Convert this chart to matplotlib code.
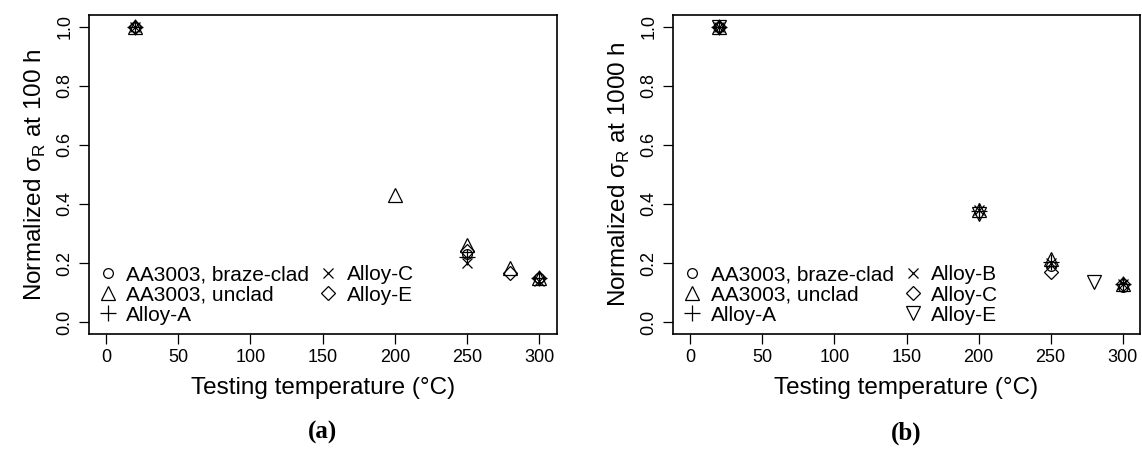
import matplotlib.pyplot as plt

plt.rcParams['font.family'] = ['Liberation Sans', 'DejaVu Sans']

# panel (a): normalized rupture stress at 100 h
temps_a = {
    'AA3003, braze-clad': ([20, 250, 300], [1.0, 0.23, 0.15]),
    'AA3003, unclad': ([20, 200, 250, 280, 300], [1.0, 0.43, 0.26, 0.185, 0.15]),
    'Alloy-A': ([20, 250, 300], [1.0, 0.22, 0.15]),
    'Alloy-C': ([20, 250, 300], [1.0, 0.20, 0.14]),
    'Alloy-E': ([20, 250, 280, 300], [1.0, 0.24, 0.165, 0.15]),
}
# panel (b): normalized rupture stress at 1000 h
temps_b = {
    'AA3003, braze-clad': ([20, 250, 300], [1.0, 0.19, 0.12]),
    'AA3003, unclad': ([20, 200, 250, 300], [1.0, 0.38, 0.215, 0.13]),
    'Alloy-A': ([20, 200, 250, 300], [1.0, 0.375, 0.205, 0.13]),
    'Alloy-B': ([20, 200, 250, 300], [1.0, 0.38, 0.20, 0.13]),
    'Alloy-C': ([20, 250, 300], [1.0, 0.17, 0.13]),
    'Alloy-E': ([20, 200, 280], [1.0, 0.365, 0.135]),
}
markers_a = {'AA3003, braze-clad': ('o', 7), 'AA3003, unclad': ('^', 10),
             'Alloy-A': ('+', 11), 'Alloy-C': ('x', 7), 'Alloy-E': ('D', 7)}
markers_b = {'AA3003, braze-clad': ('o', 7), 'AA3003, unclad': ('^', 10),
             'Alloy-A': ('+', 11), 'Alloy-B': ('x', 7), 'Alloy-C': ('D', 7),
             'Alloy-E': ('v', 10)}

fig = plt.figure(figsize=(11.42, 4.54), dpi=100)
ax1 = fig.add_axes([0.0775, 0.2643, 0.410, 0.703])
ax2 = fig.add_axes([0.5893, 0.2643, 0.409, 0.703])

for ax, data, mk, hours, tag in [(ax1, temps_a, markers_a, 100, '(a)'),
                                 (ax2, temps_b, markers_b, 1000, '(b)')]:
    for name, (x, y) in data.items():
        m, s = mk[name]
        ax.plot(x, y, ls='none', marker=m, ms=s, mfc='none', mec='black',
                mew=0.9, label=name)
    ax.set_xlim(-12, 312)
    ax.set_ylim(-0.04, 1.04)
    ax.set_xticks([0, 50, 100, 150, 200, 250, 300])
    ax.set_yticks([0.0, 0.2, 0.4, 0.6, 0.8, 1.0])
    ax.set_yticklabels(['0.0', '0.2', '0.4', '0.6', '0.8', '1.0'],
                       rotation=90, va='center')
    ax.tick_params(direction='out', length=7, width=0.9, labelsize=13, pad=4)
    for sp in ax.spines.values():
        sp.set_linewidth(1.2)
    ax.set_xlabel('Testing temperature (°C)', fontsize=17.5, labelpad=8)
    ax.set_ylabel('Normalized σ$_\\mathregular{R}$ at %d h' % hours,
                  fontsize=17.5, labelpad=6)
    ax.legend(loc='lower left', ncol=2, frameon=False, fontsize=15,
              handletextpad=0.35, columnspacing=0.35, labelspacing=0.05,
              borderaxespad=0.0, borderpad=0.3, handlelength=1.1,
              bbox_to_anchor=(0.003, 0.01))
    ax.text(0.5, -0.31, tag, transform=ax.transAxes, ha='center', va='center',
            fontsize=18, fontweight='bold', family='Liberation Serif')

fig.savefig('out.png', dpi=100)
